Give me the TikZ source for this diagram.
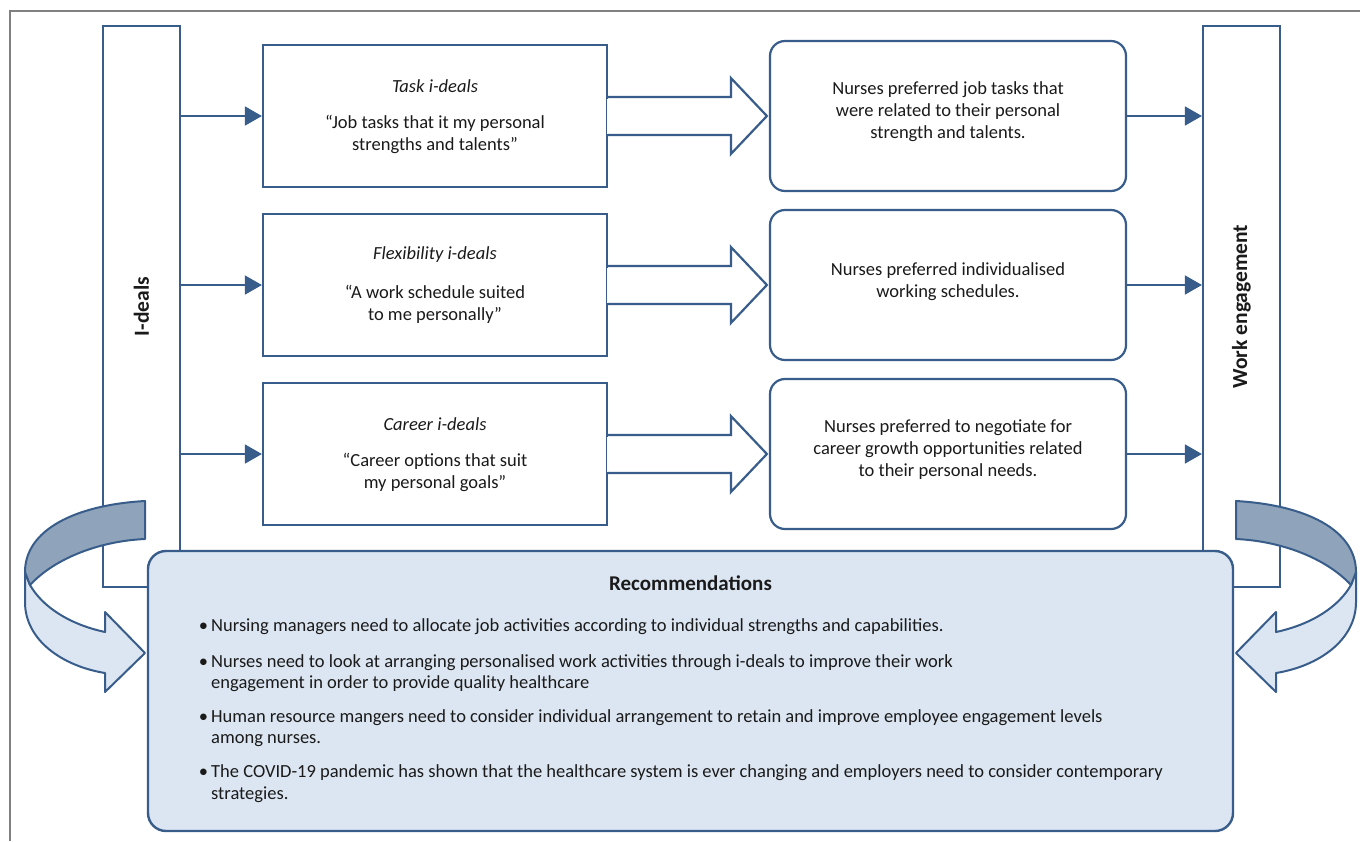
\documentclass[tikz,border=0pt]{standalone}
\usepackage{fontspec}
\setmainfont{Carlito}
\usetikzlibrary{calc,arrows.meta}
\definecolor{acc}{HTML}{385D8A}
\definecolor{lightfill}{HTML}{DCE6F2}
\definecolor{darkfill}{HTML}{8FA4BA}
\definecolor{framegray}{HTML}{808080}
\definecolor{txtc}{HTML}{1A1A1A}
\newcommand\blockarr[2]{%
  \fill[white] ($(#1.east)+(-1.6,-17.5)$) rectangle ($(#1.east)+(1,17.5)$);
  \draw[boxline] ($(#1.east)+(0,-19)$) -- ($(#2.west)+(-38,-19)$) -- ($(#2.west)+(-38,-38)$)
    -- ($(#2.west)+(-2,0)$) -- ($(#2.west)+(-38,38)$) -- ($(#2.west)+(-38,19)$) -- ($(#1.east)+(0,19)$);}
\newcommand\curlarrow{%
  \filldraw[curl, fill=lightfill] (25,572) -- (25,602) .. controls (25,640) and (62,666) .. (105,673)
    -- (105,692) -- (145,653) -- (105,612) -- (105,632) .. controls (68,624) and (42,606) .. (30,585) -- cycle;
  \filldraw[curl, fill=darkfill] (145,501) .. controls (75,505) and (25,530) .. (25,572)
    -- (30,585) .. controls (55,558) and (100,541) .. (145,539) -- cycle;}
\begin{document}
\begin{tikzpicture}[x=1pt,y=-1pt,
  every node/.style={text=txtc, font=\fontsize{18.5}{22}\selectfont},
  boxline/.style={draw=acc, line width=2.2pt, line join=miter},
  vbox/.style={boxline, fill=white, minimum width=77pt, minimum height=561pt, inner sep=0pt},
  lbox/.style={boxline, fill=white, minimum width=344pt, minimum height=142pt, inner sep=0pt},
  rbox/.style={boxline, fill=white, rounded corners=15pt, minimum width=356pt, minimum height=150pt, inner sep=0pt},
  recbox/.style={draw=acc, line width=2.4pt, fill=lightfill, rounded corners=18pt, minimum width=1085pt, minimum height=280pt, inner sep=0pt},
  thinarr/.style={draw=acc, line width=1.6pt, -{Triangle[length=17pt,width=19pt]}},
  curl/.style={draw=acc, line width=2pt, line join=round},
  txt/.style={inner sep=0pt, align=center},
  ital/.style={txt, font=\fontsize{18.5}{22}\selectfont\itshape},
  ln/.style={inner sep=0pt, anchor=base west},
  bul/.style={inner sep=0pt, anchor=base},
  vlab/.style={inner sep=0pt, rotate=90, font=\fontsize{21.5}{24}\selectfont\bfseries}
]
\useasboundingbox (0,0) rectangle (1360,841);
\fill[white] (0,0) rectangle (1360,841);
% outer frame (top and left)
\draw[framegray, line width=1.2pt] (10,841) -- (10,11) -- (1360,11);

% vertical boxes
\node[vbox] (I) at (141.5,306.5) {};
\node[vbox] (W) at (1241.5,306.5) {};
\node[vlab] (Ilab) at (I.center) {I-deals};
\node[vlab] (Wlab) at (W.center) {Work engagement};

% left boxes
\node[lbox] (L1) at (435,116) {};
\node[lbox] (L2) at (435,285) {};
\node[lbox] (L3) at (435,454) {};
% right boxes
\node[rbox] (R1) at (948,116) {};
\node[rbox] (R2) at (948,285) {};
\node[rbox] (R3) at (948,454) {};

% block arrows
\blockarr{L1}{R1}
\blockarr{L2}{R2}
\blockarr{L3}{R3}

% thin arrows
\draw[thinarr] (I.east |- L1.west) -- (L1.west);
\draw[thinarr] (I.east |- L2.west) -- (L2.west);
\draw[thinarr] (I.east |- L3.west) -- (L3.west);
\draw[thinarr] (R1.east) -- (W.west |- R1.east);
\draw[thinarr] (R2.east) -- (W.west |- R2.east);
\draw[thinarr] (R3.east) -- (W.west |- R3.east);

% left box texts
\node[ital] (L1t) at ($(L1.center)+(0,-30)$) {Task i-deals};
\node[txt] (L1q) at ($(L1.center)+(0,18)$) {“Job tasks that it my personal\\strengths and talents”};
\node[ital] (L2t) at ($(L2.center)+(0,-30)$) {Flexibility i-deals};
\node[txt] (L2q) at ($(L2.center)+(0,19)$) {“A work schedule suited\\to me personally”};
\node[ital] (L3t) at ($(L3.center)+(0,-30)$) {Career i-deals};
\node[txt] (L3q) at ($(L3.center)+(0,18)$) {“Career options that suit\\my personal goals”};

% right box texts
\node[txt] (R1t) at ($(R1.center)+(0,-4)$) {Nurses preferred job tasks that\\were related to their personal\\strength and talents.};
\node[txt] (R2t) at ($(R2.center)+(0,-3)$) {Nurses preferred individualised\\working schedules.};
\node[txt] (R3t) at ($(R3.center)+(0,-4)$) {Nurses preferred to negotiate for\\career growth opportunities related\\to their personal needs.};

% recommendations
\node[recbox] (Rec) at (690.5,691) {};
\node[txt, font=\fontsize{21}{24}\selectfont\bfseries] (RecT) at (690.5,583) {Recommendations};
\node[bul] (b1) at (203.5,631) {•};
\node[ln] (r1) at (211,631) {Nursing managers need to allocate job activities according to individual strengths and capabilities.};
\node[bul] (b2) at (203.5,667) {•};
\node[ln] (r2a) at (211,667) {Nurses need to look at arranging personalised work activities through i-deals to improve their work};
\node[ln] (r2b) at (211,688) {engagement in order to provide quality healthcare};
\node[bul] (b3) at (203.5,722) {•};
\node[ln] (r3a) at (211,722) {Human resource mangers need to consider individual arrangement to retain and improve employee engagement levels};
\node[ln] (r3b) at (211,743) {among nurses.};
\node[bul] (b4) at (203.5,777) {•};
\node[ln] (r4a) at (211,777) {The COVID-19 pandemic has shown that the healthcare system is ever changing and employers need to consider contemporary};
\node[ln] (r4b) at (211,799) {strategies.};

% curved arrows
\curlarrow
\begin{scope}[shift={(1381,0)}, xscale=-1]
\curlarrow
\end{scope}
\end{tikzpicture}
\end{document}
